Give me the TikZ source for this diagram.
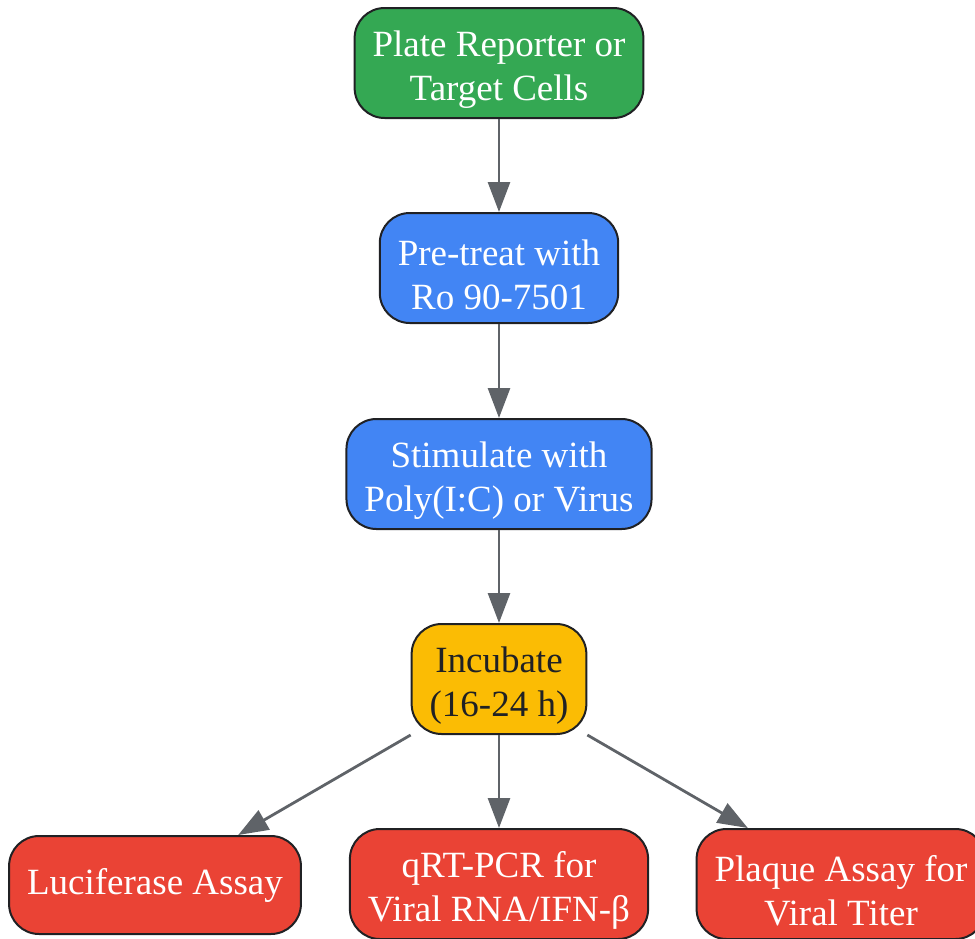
\documentclass[tikz,border=0pt]{standalone}
\usepackage{fontspec}
\setmainfont{Liberation Serif}
\usetikzlibrary{arrows.meta}

\definecolor{verde}{HTML}{34A853}
\definecolor{azul}{HTML}{4285F4}
\definecolor{amarillo}{HTML}{FBBC04}
\definecolor{rojo}{HTML}{EA4335}
\definecolor{borde}{HTML}{202124}
\definecolor{gris}{HTML}{5F6368}

\newcommand{\tope}{\rule{0pt}{39pt}}

\tikzset{
  paso/.style={draw=borde, line width=2pt, rounded corners=30pt, align=center,
    text=white, inner xsep=18pt, inner ysep=6pt, minimum height=110pt,
    font=\fontsize{37}{44}\selectfont},
  flecha/.style={draw=gris, line width=2.8pt, -{Triangle[length=30pt,width=22pt]}},
}

\begin{document}
\begin{tikzpicture}[x=1pt, y=-1pt]
  \useasboundingbox (0,0) rectangle (975,938);

  % Pasos
  \node[paso, fill=verde] (placa) at (499,63) {\tope Plate Reporter or\\Target Cells};
  \node[paso, fill=azul] (pretrat) at (499,268) {\tope Pre-treat with\\Ro 90-7501};
  \node[paso, fill=azul] (estim) at (499,474) {\tope Stimulate with\\Poly(I:C) or Virus};
  \node[paso, fill=amarillo, text=borde] (incub) at (499,679) {\tope Incubate\\(16-24 h)};

  % Lecturas
  \node[paso, fill=rojo, minimum height=98pt] (lucif) at (155,885) {Luciferase Assay};
  \node[paso, fill=rojo] (qpcr) at (499,884) {\tope qRT-PCR for\\Viral RNA/IFN-β};
  \node[paso, fill=rojo] (placas) at (841,884) {\tope Plaque Assay for\\Viral Titer};

  % Flechas
  \draw[flecha] (placa) -- (pretrat);
  \draw[flecha] (pretrat) -- (estim);
  \draw[flecha] (estim) -- (incub);
  \draw[flecha] (incub.south west) -- (lucif.31);
  \draw[flecha] (incub) -- (qpcr);
  \draw[flecha] (incub.south east) -- (placas.149);
\end{tikzpicture}
\end{document}
